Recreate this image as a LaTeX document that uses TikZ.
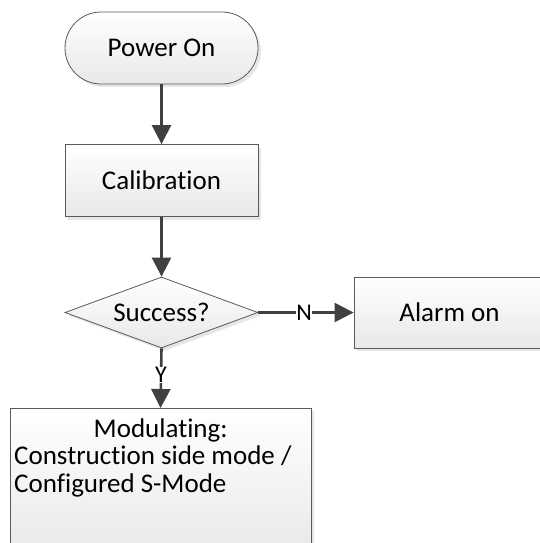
\documentclass[tikz,border=0pt]{standalone}
\usepackage{fontspec}
\setmainfont{Carlito}[Ligatures=CommonOff]
\usetikzlibrary{arrows.meta,shapes.geometric,shadows}
\definecolor{edge}{HTML}{5A5A5A}
\definecolor{conn}{HTML}{404040}
\begin{document}
\begin{tikzpicture}[x=1pt,y=1pt,
  every node/.style={font=\fontsize{27}{28}\selectfont},
  shp/.style={draw=edge, line width=0.8pt, top color=white, bottom color=black!9,
    drop shadow={shadow xshift=3pt, shadow yshift=-3pt, opacity=0.2, fill=black!50},
    inner sep=0pt},
  boxshape/.style={shp, rectangle, minimum width=193pt, minimum height=72pt},
  term/.style={shp, rectangle, rounded corners=36pt, minimum width=193pt, minimum height=72pt},
  dec/.style={shp, diamond, minimum width=193pt, minimum height=71pt, shape aspect=2.7},
  conline/.style={draw=conn, line width=2.6pt, -{Triangle[length=19pt,width=19pt]}},
  lbl/.style={fill=white, inner sep=0.5pt, font=\fontsize{24}{26}\selectfont}
]
\useasboundingbox (0,0) rectangle (540,-543);
\node[term] (pwr) at (161.5,-48) {Power On};
\node[boxshape] (cal) at (161.5,-180.5) {Calibration};
\node[dec] (succ) at (161.5,-312.5) {Success?};
\node[boxshape, minimum width=191pt, minimum height=71pt] (alarm) at (449.5,-312.5) {Alarm on};
\node[boxshape, anchor=north, minimum width=301pt, minimum height=150pt] (mod) at (160.5,-408) {};
\node[anchor=base west, inner sep=0pt] (modtext) at (14,-437)
  {\parbox[t]{293pt}{\fontsize{27}{27.5}\selectfont\centering Modulating:\par\raggedright Construction side mode /\par Configured S-Mode}};
\draw[conline] (pwr) -- (cal);
\draw[conline] (cal) -- (succ);
\draw[conline, line width=2.2pt] (succ.east) -- node[lbl, pos=0.48] (nlab) {N} (alarm.west);
\draw[conline] (succ.south) -- node[lbl, pos=0.45] (ylab) {Y} (mod.north);
\end{tikzpicture}
\end{document}
